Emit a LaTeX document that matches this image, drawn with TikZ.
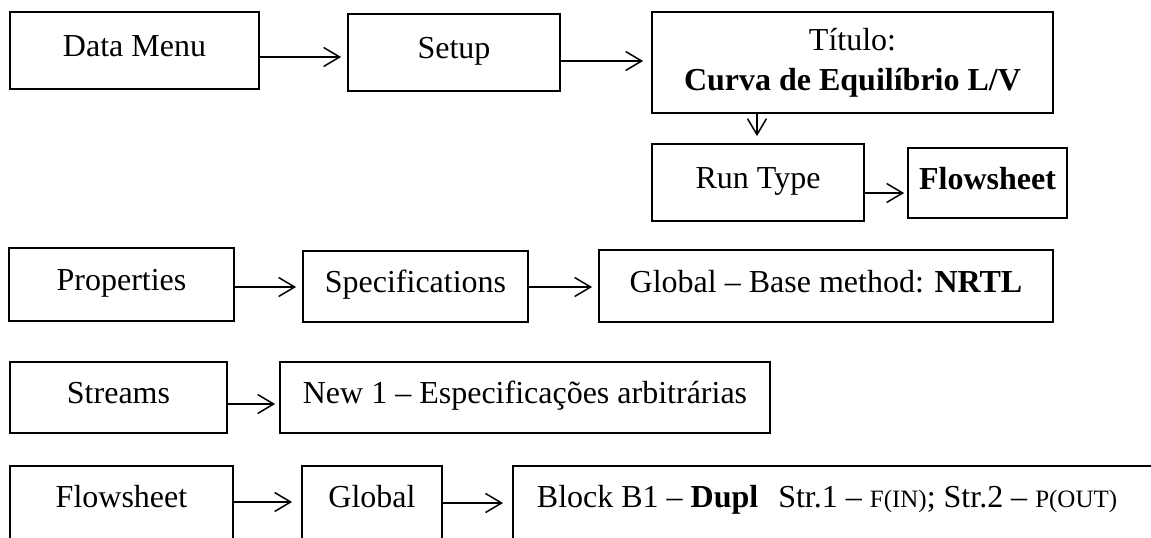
\documentclass[tikz,border=0pt]{standalone}
\usepackage{fontspec}
\setmainfont{Liberation Serif}
\usetikzlibrary{arrows.meta}

\begin{document}
\begin{tikzpicture}[
    x=0.5pt, y=-0.5pt,
    frame/.style={draw, line width=0.9pt, inner sep=0pt, font=\fontsize{16}{20}\selectfont},
    box/.style={frame, text height=11pt, text depth=5pt},
    cut/.style={box, anchor=north, minimum height=45pt, text depth=14.4pt},
    flow/.style={-{Straight Barb[length=8pt, width=9.5pt]}, line width=0.75pt},
    small/.style={font=\fontsize{12.5}{14}\selectfont}
]
\useasboundingbox (0,0) rectangle (1151,537);
\clip (0,0) rectangle (1151,537);

% Row 1: data menu
\node[box, minimum width=124.5pt, minimum height=38.5pt] (datamenu) at (134.5,50.5) {Data Menu};
\node[box, minimum width=106pt, minimum height=38.5pt] (setup) at (454,52.5) {Setup};
\node[frame, minimum width=200.5pt, minimum height=50.5pt, align=center] (titulo) at (852.5,62.5)
    {Título:\\\textbf{Curva de Equilíbrio L/V}};
\node[box, minimum width=106pt, minimum height=38.5pt] (runtype) at (758,182.5) {Run Type};
\node[box, minimum width=79.5pt, minimum height=35pt] (flowsheet) at (987.5,183) {\textbf{Flowsheet}};

\draw[flow, shorten >=3pt] (datamenu.east |- 0,57) -- (setup.west |- 0,57);
\draw[flow, shorten >=4pt] (setup.east |- 0,61) -- (titulo.west |- 0,61);
\draw[flow, shorten >=3.5pt] (titulo.south -| 757,0) -- (runtype.north -| 757,0);
\draw[flow, shorten >=1.5pt] (runtype.east |- 0,193) -- (flowsheet.west |- 0,193);

% Row 2: properties
\node[box, minimum width=112.5pt, minimum height=36.5pt] (properties) at (121.5,284.5) {Properties};
\node[box, minimum width=112.5pt, minimum height=35.5pt] (specs) at (415.5,286.5) {Specifications};
\node[box, minimum width=227pt, minimum height=36pt] (basemethod) at (826,286) {Global – Base method: \textbf{NRTL}};

\draw[flow, shorten >=3pt] (properties.east |- 0,287) -- (specs.west |- 0,287);
\draw[flow, shorten >=3pt] (specs.east |- 0,287) -- (basemethod.west |- 0,287);

% Row 3: streams
\node[box, minimum width=108.5pt, minimum height=35.5pt] (streams) at (118.5,397.5) {Streams};
\node[box, minimum width=245pt, minimum height=35.5pt] (newone) at (525,397.5) {New 1 – Especificações arbitrárias};

\draw[flow, shorten >=2pt] (streams.east |- 0,404) -- (newone.west |- 0,404);

% Row 4: flowsheet (boxes run off the page)
\node[cut, minimum width=111.5pt] (fsheet) at (121.5,465) {Flowsheet};
\node[cut, minimum width=70pt] (global) at (372,465) {Global};
\node[cut, anchor=north west, minimum width=329pt, text width=305pt, inner xsep=12pt, align=left,
      execute at begin node={\spaceskip=0pt\xspaceskip=0pt}] (block) at (512,465)
    {Block B1 – \textbf{Dupl}\hspace{10pt}Str.1 – {\fontsize{12.5}{14}\selectfont F(IN)}; Str.2 – {\fontsize{12.5}{14}\selectfont P(OUT)}};

\draw[flow, shorten >=4.5pt] (fsheet.east |- 0,502) -- (global.west |- 0,502);
\draw[flow, shorten >=4.5pt] (global.east |- 0,503) -- (block.west |- 0,503);

\end{tikzpicture}
\end{document}
